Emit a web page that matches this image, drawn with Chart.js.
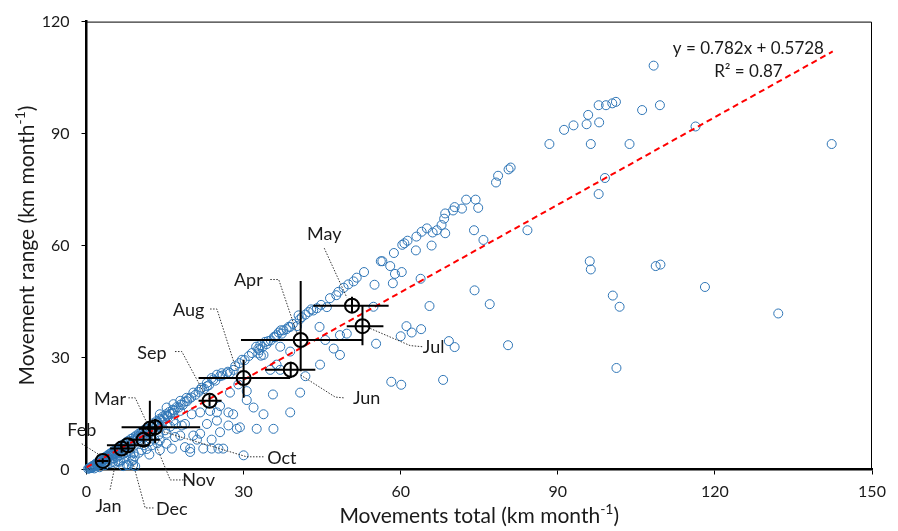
<!DOCTYPE html>
<html lang="en">
<head>
<meta charset="UTF-8">
<title>Movement range vs movements total</title>
<script src="https://cdn.jsdelivr.net/npm/chart.js"></script>
<style>
    * { margin: 0; padding: 0; box-sizing: border-box; }
    body { background: #fff; }
    .chart-container { position: relative; width: 898px; height: 531px; }
</style>
</head>
<body>
<div class="chart-container"><canvas id="rangeChart"></canvas></div>
<script>
const xTicks = [0, 30, 60, 90, 120, 150];
const yTicks = [0, 30, 60, 90, 120];

// individual movements (km month-1)
const pointsX = [
    108.3,109.5,106.1,116.3,142.3,97.8,99.2,100.4,101.1,95.8,95.5,97.9,91.2,93.0,88.4,96.3,103.7,99.0,97.8,
    78.2,78.6,80.6,81.0,84.2,72.5,74.3,74.8,71.7,70.3,70.0,68.5,68.3,67.8,68.5,74.0,75.8,66.9,66.1,65.0,64.0,
    63.0,62.9,65.9,61.3,60.7,60.3,58.7,56.5,56.2,58.0,53.0,96.1,96.3,108.7,109.6,
    118.1,132.1,100.5,101.8,101.2,80.5,77.0,74.1,65.5,63.8,60.2,58.9,55.0,51.6,54.8,61.1,62.1,63.9,60.0,55.3,
    69.2,70.3,58.2,60.1,68.1,
    49.1,48.1,47.7,45.9,44.0,43.3,42.9,41.1,40.7,40.2,38.9,37.1,36.7,35.8,37.3,34.7,34.1,32.8,33.0,32.8,33.3,
    32.4,29.7,28.1,26.8,25.8,24.9,23.9,23.0,22.0,
    58.5,44.6,48.4,47.2,45.6,48.4,49.7,44.5,40.8,41.8,35.1,37.0,36.3,35.6,30.6,30.6,
    35.7,33.8,32.5,31.9,29.3,28.7,28.0,27.1,25.5,25.2,23.9,30.0,23.0,21.7,20.4,19.8,18.2,17.9,16.3,16.9,14.0,
    15.3,24.9,23.6,25.5,27.4,21.7,38.9,29.0,8.9,7.7,6.4,8.9,
    20.4,21.7,23.0,19.1,17.9,16.6,15.3,14.0,24.2,25.5,27.4,33.2,33.8,36.3,37.6,38.6,40.5,38.9,37.0,
    8.0,9.3,7.0,8.6,14.0,15.3,18.8,19.8,17.9,21.1,22.3,26.1,23.9,18.8,16.6,20.1,27.1,24.9,
    0.3,0.6,0.9,1.2,1.5,1.8,2.1,2.4,2.7,3.0,3.3,3.6,3.9,4.2,4.5,4.8,5.1,5.4,5.7,6.0,6.4,6.8,7.2,7.6,8.0,8.5,
    9.0,9.5,10.0,10.5,11.0,11.6,12.2,12.8,13.4,14.0,14.6,15.2,15.8,16.5,17.2,18.0,18.8,19.6,
    1.0,1.6,2.2,2.8,3.4,4.0,4.6,5.2,5.8,6.4,7.0,7.6,8.2,
    2.0,3.0,4.0,5.0,6.0,7.0,8.0,9.0,10.0,11.0,12.0,13.0,14.0,9.5,10.5,11.5,12.5,13.5,14.5,15.5,16.5,
    1.5,2.5,5.5,6.5,9.2,10.0,11.5,12.5,13.5,
    0.5,0.8,1.1,1.4,1.7,2.0,2.3,2.6,2.9,3.2,3.5,3.8,4.1,4.4,4.7,5.0,5.3,5.6,5.9,6.2,6.6,7.0,7.4,7.8,8.3,8.8,
    9.3,9.8,10.3,10.8,11.3,11.8,12.4,13.0,13.6,14.2,14.8,15.4,16.0,16.8,17.6,18.4,19.2,20.0,20.8,21.4,22.5,
    23.4,24.6,26.0,27.0,28.4,29.2,30.2,31.0,31.6,33.6,34.4,35.2,36.0,38.2,39.4,41.8,42.4,44.8,46.5,50.0,51.0,
    3.5,4.5,5.0,6.0,7.2,8.4,9.0,10.5,11.0,12.0,13.0,15.0,16.0,17.0,13.8,12.0
];
const pointsY = [
    108.2,97.6,96.3,91.9,87.2,97.6,97.6,98.1,98.5,95.0,92.5,93.0,91.0,92.2,87.2,87.2,87.2,78.1,73.8,
    76.9,78.7,80.4,80.9,64.1,72.3,72.3,70.1,69.9,70.3,69.4,68.6,67.2,65.5,63.3,64.1,61.5,64.1,63.5,64.6,63.7,
    62.4,58.7,60.0,61.3,60.6,60.2,58.0,55.8,55.8,54.5,52.9,55.8,53.6,54.5,54.9,
    48.9,41.8,46.6,43.6,27.2,33.3,44.3,48.0,43.8,51.1,52.9,52.4,49.5,51.4,43.6,38.4,36.7,37.6,35.7,33.7,
    34.4,32.8,23.5,22.7,24.0,
    48.7,47.6,46.7,43.5,43.2,42.6,42.9,40.8,40.2,38.4,38.2,37.3,36.7,35.5,36.4,34.4,34.2,32.4,32.0,31.1,30.5,
    32.9,29.4,26.7,25.8,25.8,25.4,24.5,23.2,21.9,
    49.9,28.1,30.7,32.4,34.7,36.0,36.4,38.2,20.6,25.0,26.7,26.7,28.1,20.1,21.0,18.6,
    10.9,14.8,10.9,16.6,11.3,10.9,14.8,11.8,10.0,5.6,5.6,3.8,12.2,9.6,9.1,5.6,11.8,15.7,5.6,8.7,7.8,
    9.6,15.3,15.7,17.0,20.6,15.3,15.3,22.8,2.5,1.2,2.1,1.2,
    20.6,21.4,22.3,19.2,18.4,17.5,16.6,14.8,24.1,25.0,25.8,33.3,30.7,36.0,37.3,38.2,41.3,31.6,32.9,
    1.2,0.9,0.9,2.3,5.2,6.9,6.0,4.7,9.1,8.0,5.6,5.6,8.0,12.2,13.1,14.8,15.3,13.1,
    0.2,0.5,0.7,1.0,1.2,1.6,1.8,2.2,2.4,2.8,3.0,3.4,3.6,4.0,4.2,4.6,4.8,5.2,5.4,5.8,6.1,6.5,6.9,7.3,7.7,8.2,
    8.6,9.1,9.6,10.1,10.6,11.2,11.8,12.4,13.0,13.6,14.2,14.8,15.4,16.0,16.7,17.4,18.2,19.0,
    0.4,0.8,1.2,1.5,1.9,2.3,2.6,3.0,3.4,3.8,4.2,4.6,5.0,
    1.5,2.2,3.0,3.8,4.6,5.4,6.2,7.0,7.8,8.6,9.5,10.4,11.3,8.0,9.0,10.0,11.0,12.0,13.0,14.0,15.0,
    0.3,0.6,1.8,2.5,3.5,4.5,5.5,6.5,7.0,
    0.3,0.4,0.6,0.9,1.1,1.3,1.6,1.9,2.1,2.4,2.7,2.9,3.3,3.5,3.9,4.1,4.4,4.7,5.0,5.3,5.7,6.1,6.4,6.9,7.2,7.7,
    8.3,8.8,9.4,9.8,10.3,10.9,11.4,12.0,12.6,13.2,13.7,14.4,14.9,15.8,16.6,17.3,18.3,19.3,20.0,20.8,21.6,
    22.6,23.8,25.2,26.2,27.7,28.5,29.3,30.4,31.2,32.8,33.6,34.6,35.4,37.6,39.0,41.5,42.2,44.1,45.9,49.6,50.4,
    1.2,1.7,2.0,2.2,3.0,3.8,4.4,5.2,6.5,7.5,8.0,10.5,11.5,12.2,9.3,4.0
];

// monthly means with error bars
const months = ['Jan', 'Feb', 'Mar', 'Apr', 'May', 'Jun', 'Jul', 'Aug', 'Sep', 'Oct', 'Nov', 'Dec'];
const monthX     = [6.7, 3.1, 12.1, 40.9, 50.7, 39.0, 52.7, 30.0, 23.5, 13.1, 10.9, 7.9];
const monthY     = [5.6, 2.3, 10.9, 34.7, 43.9, 26.7, 38.4, 24.5, 18.4, 11.3, 8.0, 6.5];
const monthXLow  = [4.5, 2.0, 10.0, 29.5, 43.3, 34.1, 49.7, 21.4, 21.4, 6.7, 8.0, 3.9];
const monthXHigh = [9.0, 4.2, 14.2, 52.8, 57.7, 43.7, 56.7, 38.9, 25.8, 21.7, 14.0, 12.0];
const monthYLow  = [4.5, 1.6, 7.3, 26.3, 42.2, 24.5, 33.3, 19.2, 17.0, 7.0, 6.8, 5.5];
const monthYHigh = [6.7, 3.0, 18.4, 50.5, 46.3, 28.9, 43.9, 29.4, 20.0, 13.5, 9.2, 7.5];

// linear fit shown on the chart
const fitSlope = 0.782;
const fitIntercept = 0.5728;
const fitR2 = 0.87;
const fitRange = [0, 142.5];

// month label anchors and leader paths (data units)
const labelSpots = {
    Jan: { at: [4.2, -9.8],  path: [[4.5, -5.4], [5.4, 0.7]] },
    Feb: { at: [-0.9, 10.4], path: [[-0.9, 6.9], [2.6, 3.8]] },
    Mar: { at: [4.5, 18.8],  path: [[8.0, 19.2], [9.3, 19.2], [11.5, 12.6]] },
    Apr: { at: [30.9, 50.8], path: [[35.1, 50.9], [36.7, 50.9], [40.2, 36.4]] },
    May: { at: [45.4, 63.1], path: [[45.4, 59.3], [49.7, 46.1]] },
    Jun: { at: [53.5, 19.2], path: [[49.1, 19.2], [47.5, 19.4], [40.8, 25.4]] },
    Jul: { at: [66.3, 32.9], path: [[64.1, 32.9], [61.8, 33.2], [53.5, 38.2]] },
    Aug: { at: [19.5, 42.6], path: [[23.6, 43.0], [24.9, 43.0], [28.7, 26.3]] },
    Sep: { at: [12.5, 31.1], path: [[16.9, 31.6], [18.2, 31.6], [22.6, 20.1]] },
    Oct: { at: [37.3, 3.0],  path: [[33.8, 3.4], [30.6, 3.4], [14.0, 10.4]] },
    Nov: { at: [21.4, -2.8], path: [[19.1, -2.8], [16.0, -2.8], [13.4, 6.0]] },
    Dec: { at: [16.3, -10.7], path: [[12.8, -10.3], [11.2, -10.3], [8.9, 1.6]] }
};
const equationSpot = [126.4, 112.7];
const r2Spot = [126.4, 106.6];

const FONT = 'Lato, "Open Sans", sans-serif';
const TEXT = '#1a1a1a';

function drawRich(ctx, parts, cx, cy) {
    let w = 0;
    parts.forEach(p => { ctx.font = p.size + 'px ' + FONT; p.w = ctx.measureText(p.text).width; w += p.w; });
    let x = cx - w / 2;
    ctx.textAlign = 'left';
    ctx.textBaseline = 'middle';
    parts.forEach(p => {
        ctx.font = p.size + 'px ' + FONT;
        ctx.fillText(p.text, x, cy + (p.dy || 0));
        x += p.w;
    });
}

const overlay = {
    id: 'overlay',
    afterDatasetsDraw(chart) {
        const { ctx, chartArea: a, scales: { x, y } } = chart;
        const px = v => x.getPixelForValue(v);
        const py = v => y.getPixelForValue(v);
        ctx.save();

        // top and right frame
        ctx.strokeStyle = '#000';
        ctx.lineWidth = 1;
        ctx.beginPath();
        ctx.moveTo(a.left, a.top + 0.5);
        ctx.lineTo(a.right - 0.5, a.top + 0.5);
        ctx.lineTo(a.right - 0.5, a.bottom);
        ctx.stroke();

        // leader lines
        ctx.strokeStyle = '#333';
        ctx.lineWidth = 1;
        ctx.setLineDash([1.5, 1.5]);
        Object.values(labelSpots).forEach(s => {
            ctx.beginPath();
            s.path.forEach((p, i) => i ? ctx.lineTo(px(p[0]), py(p[1])) : ctx.moveTo(px(p[0]), py(p[1])));
            ctx.stroke();
        });
        ctx.setLineDash([]);

        // error bars
        ctx.strokeStyle = '#000';
        ctx.lineWidth = 2;
        months.forEach((m, i) => {
            ctx.beginPath();
            ctx.moveTo(px(monthXLow[i]), py(monthY[i]));
            ctx.lineTo(px(monthXHigh[i]), py(monthY[i]));
            ctx.moveTo(px(monthX[i]), py(monthYLow[i]));
            ctx.lineTo(px(monthX[i]), py(monthYHigh[i]));
            ctx.stroke();
        });

        // month labels
        ctx.fillStyle = TEXT;
        ctx.font = '18px ' + FONT;
        ctx.textAlign = 'center';
        ctx.textBaseline = 'middle';
        months.forEach(m => {
            const s = labelSpots[m];
            ctx.fillText(m, px(s.at[0]), py(s.at[1]));
        });

        // fit equation
        ctx.font = '17px ' + FONT;
        ctx.fillText('y = ' + fitSlope + 'x + ' + fitIntercept, px(equationSpot[0]), py(equationSpot[1]));
        ctx.fillText('R\u00B2 = ' + fitR2, px(r2Spot[0]), py(r2Spot[1]));

        // axis titles
        drawRich(ctx, [
            { text: 'Movements total (km month', size: 21 },
            { text: '-1', size: 14, dy: -7 },
            { text: ')', size: 21 }
        ], (a.left + a.right) / 2, 516);
        ctx.translate(27, (a.top + a.bottom) / 2);
        ctx.rotate(-Math.PI / 2);
        drawRich(ctx, [
            { text: 'Movement range (km month', size: 21 },
            { text: '-1', size: 14, dy: -7 },
            { text: ')', size: 21 }
        ], 0, 0);
        ctx.restore();
    }
};

const scatterData = pointsX.map((v, i) => ({ x: v, y: pointsY[i] }));
const meanData = monthX.map((v, i) => ({ x: v, y: monthY[i] }));
const fitData = fitRange.map(v => ({ x: v, y: fitSlope * v + fitIntercept }));

const ctx = document.getElementById('rangeChart').getContext('2d');
new Chart(ctx, {
    type: 'scatter',
    data: {
        datasets: [{
            label: 'Movements',
            data: scatterData,
            order: 3,
            clip: false,
            pointRadius: 4.5,
            pointBorderWidth: 1,
            pointBorderColor: '#2e75b6',
            pointBackgroundColor: 'rgba(0,0,0,0)'
        }, {
            label: 'Fit',
            type: 'line',
            data: fitData,
            order: 2,
            borderColor: '#ff0000',
            borderWidth: 2,
            borderDash: [6, 4],
            pointRadius: 0,
            fill: false
        }, {
            label: 'Monthly mean',
            data: meanData,
            order: 1,
            clip: false,
            pointRadius: 7,
            pointBorderWidth: 2,
            pointBorderColor: '#000',
            pointBackgroundColor: 'rgba(0,0,0,0)'
        }]
    },
    options: {
        responsive: true,
        maintainAspectRatio: false,
        animation: false,
        layout: { padding: { left: 0, top: 16, right: 26, bottom: 0 } },
        plugins: { legend: { display: false }, tooltip: { enabled: false } },
        scales: {
            x: {
                type: 'linear',
                min: 0,
                max: 150,
                afterBuildTicks: s => { s.ticks = xTicks.map(v => ({ value: v })); },
                afterFit: s => { s.height = 61.5; },
                border: { display: true, color: '#000', width: 2.5 },
                grid: { drawOnChartArea: false, drawTicks: true, tickLength: 5, color: '#000', lineWidth: 1 },
                ticks: { color: TEXT, padding: 8, maxRotation: 0, font: { family: FONT, size: 16 } }
            },
            y: {
                type: 'linear',
                min: 0,
                max: 120,
                afterBuildTicks: s => { s.ticks = yTicks.map(v => ({ value: v })); },
                afterFit: s => { s.width = 86.5; },
                border: { display: true, color: '#000', width: 2.5 },
                grid: { drawOnChartArea: false, drawTicks: true, tickLength: 5, color: '#000', lineWidth: 1 },
                ticks: { color: TEXT, padding: 12, font: { family: FONT, size: 16 } }
            }
        }
    },
    plugins: [overlay]
});
</script>
</body>
</html>
